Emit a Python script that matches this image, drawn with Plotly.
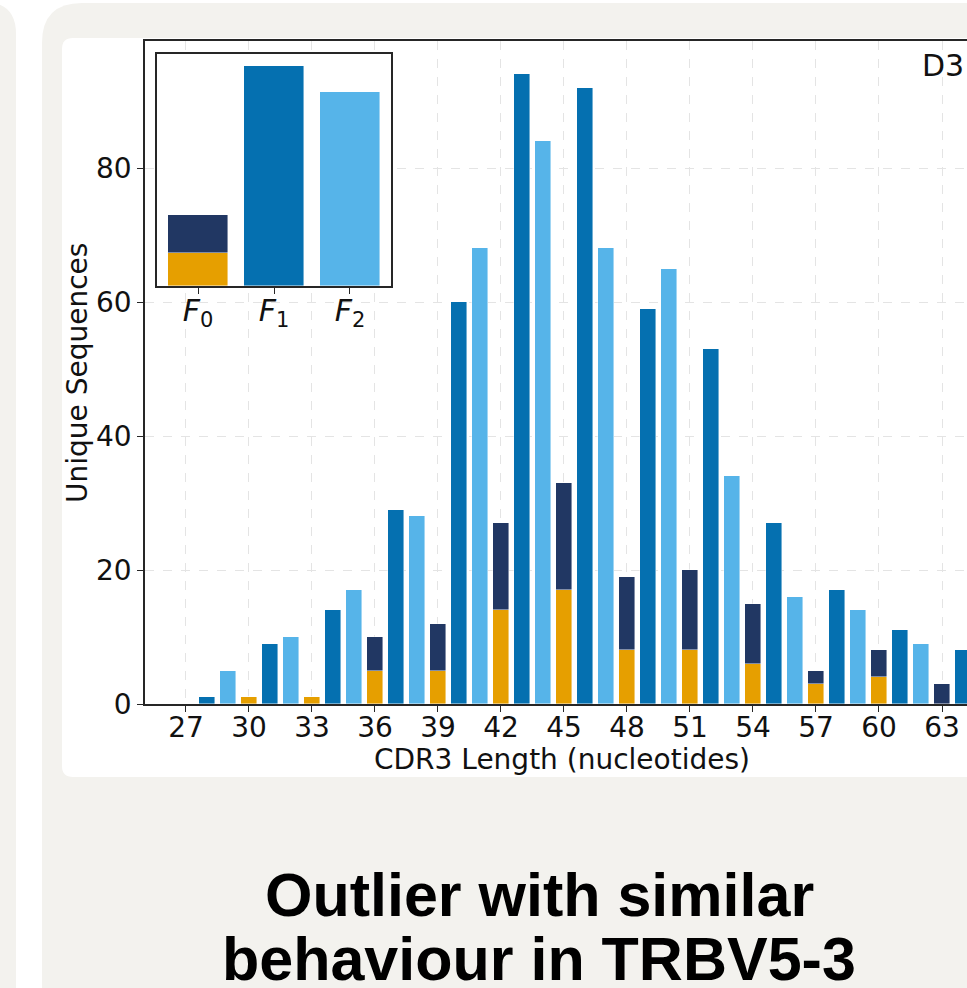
import plotly.graph_objects as go

# ---------------- data ----------------
lengths_f0 = [27, 30, 33, 36, 39, 42, 45, 48, 51, 54, 57, 60, 63]
f0_lower = [0, 1, 1, 5, 5, 14, 17, 8, 8, 6, 3, 4, 0]
f0_upper = [0, 0, 0, 5, 7, 13, 16, 11, 12, 9, 2, 4, 3]
lengths_f1 = [28, 31, 34, 37, 40, 43, 46, 49, 52, 55, 58, 61, 64]
f1_values = [1, 9, 14, 29, 60, 94, 92, 59, 53, 27, 17, 11, 8]
lengths_f2 = [29, 32, 35, 38, 41, 44, 47, 50, 53, 56, 59, 62]
f2_values = [5, 10, 17, 28, 68, 84, 68, 65, 34, 16, 14, 9]
x_tick_vals = [27, 30, 33, 36, 39, 42, 45, 48, 51, 54, 57, 60, 63]
y_tick_vals = [0, 20, 40, 60, 80]
inset_labels = ["<i>F</i><sub>0</sub>", "<i>F</i><sub>1</sub>", "<i>F</i><sub>2</sub>"]
panel_label = "D3"
x_title = "CDR3 Length (nucleotides)"
y_title = "Unique Sequences"
title_lines = ["Outlier with similar", "behaviour in TRBV5-3"]

# inset totals derived from the main series
inset_lower = [sum(f0_lower), 0, 0]
inset_upper = [sum(f0_upper), sum(f1_values), sum(f2_values)]
inset_max = max(sum(f0_lower) + sum(f0_upper), sum(f1_values), sum(f2_values))

# ---------------- style ----------------
ORANGE = "#E69F00"
NAVY = "#213763"
DARK = "#0570B0"
LIGHT = "#56B4E9"
CARD = "#F3F2EE"
AXC = "#262626"
GRID = "#E4E4E4"

W, H = 967, 988
ML, MR, MT, MB = 145, 0, 41, 284
PW, PH = W - ML - MR, H - MT - MB


def px(x):
    return (x - ML) / PW


def py(y):
    return (H - MB - y) / PH


def rrect(x0, y0, x1, y1, r):
    def P(x, y):
        return f"{px(x):.5f},{py(y):.5f}"
    d = (f"M {P(x0 + r, y0)} L {P(x1 - r, y0)} Q {P(x1, y0)} {P(x1, y0 + r)} "
         f"L {P(x1, y1 - r)} Q {P(x1, y1)} {P(x1 - r, y1)} "
         f"L {P(x0 + r, y1)} Q {P(x0, y1)} {P(x0, y1 - r)} "
         f"L {P(x0, y0 + r)} Q {P(x0, y0)} {P(x0 + r, y0)} Z")
    return d


edge = dict(color="rgba(255,255,255,0.55)", width=0.8)

fig = go.Figure()
fig.add_bar(x=lengths_f0, y=f0_lower, width=0.8, marker=dict(color=ORANGE, line=edge))
fig.add_bar(x=lengths_f0, y=f0_upper, width=0.8, marker=dict(color=NAVY, line=edge))
fig.add_bar(x=lengths_f1, y=f1_values, width=0.8, marker=dict(color=DARK, line=edge))
fig.add_bar(x=lengths_f2, y=f2_values, width=0.8, marker=dict(color=LIGHT, line=edge))

fig.add_bar(x=[0, 1, 2], y=inset_lower, width=0.8, xaxis="x2", yaxis="y2",
            marker=dict(color=[ORANGE, DARK, LIGHT], line=edge))
fig.add_bar(x=[0, 1, 2], y=inset_upper, width=0.8, xaxis="x2", yaxis="y2",
            marker=dict(color=[NAVY, DARK, LIGHT], line=edge))

axis_common = dict(ticks="outside", ticklen=6, tickwidth=1.2, tickcolor=AXC,
                   showline=True, linewidth=1.5, linecolor=AXC, zeroline=False)

shapes = [
    dict(type="path", path=rrect(-60, 2, 16, 1100, 32), xref="paper", yref="paper",
         fillcolor=CARD, line=dict(width=0), layer="below"),
    dict(type="path", path=rrect(42, 3, 1200, 1100, 40), xref="paper", yref="paper",
         fillcolor=CARD, line=dict(width=0), layer="below"),
    dict(type="path", path=rrect(62, 38, 1100, 777, 11), xref="paper", yref="paper",
         fillcolor="white", line=dict(width=0), layer="below"),
]

annotations = [
    dict(text=y_title, textangle=-90, x=px(77), y=py(373), xref="paper", yref="paper",
         xanchor="center", yanchor="middle", showarrow=False, font=dict(size=28, color="#111")),
    dict(text=x_title, x=px(562), y=py(759), xref="paper", yref="paper",
         xanchor="center", yanchor="middle", showarrow=False, font=dict(size=28, color="#111")),
    dict(text=panel_label, x=px(966), y=py(66), xref="paper", yref="paper",
         xanchor="right", yanchor="middle", showarrow=False, font=dict(size=30, color="#111")),
    dict(text=f"<b>{title_lines[0]}</b>", x=px(539), y=py(895), xref="paper", yref="paper",
         xanchor="center", yanchor="middle", showarrow=False,
         font=dict(family="Liberation Sans, Arial, sans-serif", size=61, color="#000")),
    dict(text=f"<b>{title_lines[1]}</b>", x=px(539), y=py(959), xref="paper", yref="paper",
         xanchor="center", yanchor="middle", showarrow=False,
         font=dict(family="Liberation Sans, Arial, sans-serif", size=61, color="#000")),
]

fig.update_layout(
    width=W, height=H,
    margin=dict(l=ML, r=MR, t=MT, b=MB, pad=0),
    paper_bgcolor="white", plot_bgcolor="white",
    font=dict(family="DejaVu Sans", size=28, color="#111"),
    barmode="stack", bargap=0, showlegend=False,
    xaxis=dict(range=[25.05, 27 + (W - 186) / 21], tickvals=x_tick_vals, domain=[0, 1],
               mirror=True, showgrid=True, gridcolor=GRID, griddash="dash", gridwidth=0.8,
               tickfont=dict(size=28, color="#111"), ticklabelstandoff=-8,
               **axis_common),
    yaxis=dict(range=[0, (704 - 41) / 6.7], tickvals=y_tick_vals, domain=[0, 1],
               showgrid=True, gridcolor=GRID, griddash="dash", gridwidth=0.8,
               tickfont=dict(size=28, color="#111"),
               **axis_common),
    xaxis2=dict(domain=[px(157), px(391)], anchor="y2", range=[-0.54, 2.54],
                tickvals=[0, 1, 2], ticktext=inset_labels, mirror=True, showgrid=False,
                tickfont=dict(size=30, color="#111"), ticklabelstandoff=-9,
                **axis_common),
    yaxis2=dict(domain=[py(286), py(54)], anchor="x2", range=[0, inset_max * 1.055],
                showticklabels=False, ticks="", mirror=True, showgrid=False,
                showline=True, linewidth=1.5, linecolor=AXC, zeroline=False),
    shapes=shapes,
    annotations=annotations,
)

fig.write_html("out.html")
